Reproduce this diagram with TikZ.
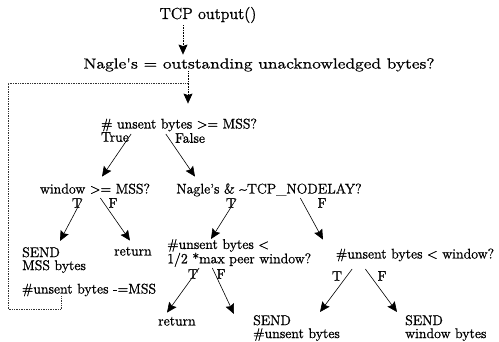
\documentclass[tikz,border=0pt]{standalone}
\usepackage{fontspec}
\setmainfont{lmroman12-regular.otf}[FakeBold=1]
\newfontfamily\widefont{lmroman12-regular.otf}[FakeBold=1, FakeStretch=1.22]
\usetikzlibrary{arrows.meta}

\tikzstyle{txt}=[inner sep=0pt, font=\fontsize{14}{13}\selectfont, text height=9.7pt, text depth=2.7pt]
\tikzstyle{big}=[inner sep=0pt, font=\fontsize{16}{16}\selectfont, text height=11pt, text depth=3pt]
\tikzstyle{two}=[inner sep=0pt, font=\fontsize{14}{13}\selectfont, align=left, anchor=north west]
\tikzstyle{lbl}=[inner sep=0pt, font=\fontsize{14}{14}\selectfont]
\tikzstyle{flow}=[-{Stealth[length=10pt,width=9pt,inset=1.5pt]}, line width=0.6pt]
\tikzstyle{back}=[densely dotted, line width=0.7pt, black!80]
\newcommand{\branch}[2]{\draw[flow] (#1) -- (#2);}
\newcommand{\tf}[3]{\node[lbl] (#1) at (#2) {#3};}

\begin{document}
\begin{tikzpicture}[x=1pt,y=-1pt]
\useasboundingbox (0,0) rectangle (499,342);

\node[big] (start) at (208,15) {TCP output()};
\node[txt, font=\widefont\fontsize{14.5}{14}\selectfont] (nagle) at (259,65) {Nagle's = outstanding unacknowledged bytes?};
\node[txt] (unsent) at (179,125) {\# unsent bytes >= MSS?};
\node[txt] (window) at (95,190) {window >= MSS?};
\node[txt] (nodelay) at (269,190) {Nagle's \& \textasciitilde TCP\_NODELAY?};
\node[two] (send1) at (22,247) {SEND\\MSS bytes};
\node[txt] (ret1) at (133,252) {return};
\node[txt] (minus) at (89,290) {\#unsent bytes -=MSS};
\node[two] (peer) at (167,239) {\#unsent bytes <\\1/2 *max peer window?};
\node[txt] (window2) at (415,255) {\#unsent bytes < window?};
\node[txt] (ret2) at (177,322) {return};
\node[two] (send2) at (253,315) {SEND\\\#unsent bytes};
\node[two] (send3) at (405,315) {SEND\\window bytes};

\tf{lblTrue}{115,137}{True}
\tf{lblFalse}{190,138}{False}
\tf{lblT1}{77,203}{T}
\tf{lblF1}{113,203}{F}
\tf{lblT2}{231,203}{T}
\tf{lblF2}{322,203}{F}
\tf{lblT3}{193,274}{T}
\tf{lblF3}{221,274}{F}
\tf{lblT4}{337,276}{T}
\tf{lblF4}{382,276}{F}

\coordinate (merge) at (188,83);

\draw[flow, densely dotted] ([xshift=-25pt,yshift=-3pt]start.south) -- ([xshift=-76pt,yshift=4pt]nagle.north);
\draw[flow, densely dotted] ([xshift=-71pt]nagle.south) -- ([xshift=9pt,yshift=15pt]unsent.north);
\draw[back] ([xshift=-28pt]minus.south) -- ++(0,13) -| ([xshift=-180pt]merge) -- (merge);

\branch{[xshift=2pt,yshift=3pt]lblTrue.east}{[xshift=7pt,yshift=7pt]window.north}
\branch{[xshift=-9pt,yshift=4pt]lblFalse.west}{[xshift=-74pt,yshift=7pt]nodelay.north}
\branch{[yshift=4pt]lblT1.east}{[xshift=38pt,yshift=6pt]send1.north west}
\branch{[xshift=-8pt,yshift=5pt]lblF1.west}{[xshift=-3pt,yshift=5pt]ret1.north}
\branch{[yshift=4pt]lblT2.east}{[xshift=44pt]peer.north west}
\branch{[xshift=-17pt,yshift=5pt]lblF2.west}{[xshift=-92pt,yshift=9pt]window2.north}
\branch{[xshift=1pt,yshift=6pt]lblT3.east}{[xshift=-10pt,yshift=3pt]ret2.north}
\branch{[xshift=-4pt,yshift=6pt]lblF3.west}{[xshift=-19pt,yshift=1pt]send2.north west}
\branch{[xshift=10pt,yshift=7pt]lblT4.east}{[xshift=67pt,yshift=3pt]send2.north west}
\branch{[xshift=-12pt,yshift=7pt]lblF4.west}{[xshift=-8pt,yshift=3pt]send3.north west}
\end{tikzpicture}
\end{document}
